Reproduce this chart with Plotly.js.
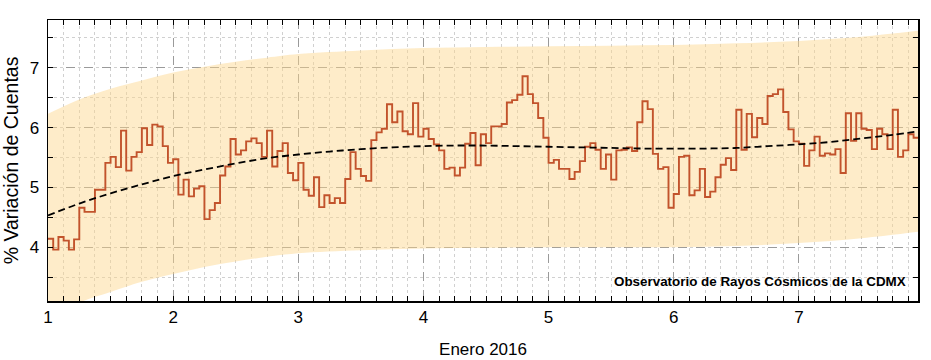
<!DOCTYPE html>
<html>
<head>
<meta charset="utf-8">
<script src="https://cdn.plot.ly/plotly-3.0.1.min.js"></script>
<style>html,body{margin:0;padding:0;background:#fff;}#chart{width:931px;height:360px;}</style>
</head>
<body>
<div id="chart"></div>
<script>
// Hourly % variation of counts, starting at day 1 (January 2016), one value per hour
const startDay = 1;
const hourlyValues = [
  4.14, 3.96, 4.17, 4.11, 3.96, 4.13, 4.66, 4.59, 4.59, 4.96,
  4.96, 5.41, 5.51, 5.34, 5.95, 5.28, 5.51, 5.59, 5.99, 5.71,
  6.05, 6.02, 5.69, 5.41, 5.47, 4.88, 5.13, 4.85, 4.98, 5.02,
  4.47, 4.62, 4.74, 5.20, 5.35, 5.81, 5.55, 5.62, 5.77, 5.82,
  5.74, 5.51, 5.95, 5.35, 5.61, 5.74, 5.24, 5.12, 5.41, 4.96,
  4.86, 5.17, 4.67, 4.87, 4.74, 4.82, 4.74, 5.14, 5.59, 5.31,
  5.19, 5.11, 5.79, 5.92, 5.98, 6.39, 6.09, 6.27, 5.94, 5.89,
  6.41, 5.85, 5.98, 5.81, 5.72, 5.62, 5.31, 5.33, 5.20, 5.33,
  5.73, 5.91, 5.37, 5.89, 5.74, 6.02, 6.02, 6.06, 6.42, 6.46,
  6.55, 6.86, 6.56, 6.41, 6.16, 5.83, 5.41, 5.46, 5.31, 5.31,
  5.14, 5.26, 5.44, 5.68, 5.74, 5.63, 5.31, 5.55, 5.13, 5.62,
  5.63, 5.67, 5.61, 6.09, 6.44, 6.31, 5.56, 5.31, 5.34, 4.66,
  4.89, 5.51, 5.53, 4.87, 4.95, 5.31, 4.84, 4.93, 5.17, 5.38,
  5.49, 5.29, 6.30, 5.63, 6.23, 5.84, 6.16, 6.06, 6.53, 6.56,
  6.64, 6.26, 5.97, 5.77, 5.73, 5.36, 5.62, 5.85, 5.53, 5.57,
  5.55, 5.64, 5.24, 6.24, 5.78, 6.24, 5.98, 5.96, 5.64, 5.98,
  5.89, 5.64, 6.30, 5.51, 5.62, 5.89, 5.83
];

// Smooth trend and its band, read at sample days
const trendDays  = [1.0, 1.25, 1.5, 1.75, 2.0, 2.25, 2.5, 2.75, 3.0, 3.25, 3.5, 3.75, 4.0, 4.25, 4.5, 4.75, 5.0, 5.25, 5.5, 5.75, 6.0, 6.25, 6.5, 6.75, 7.0, 7.25, 7.5, 7.75, 7.96];
const trendValues = [4.53, 4.73, 4.90, 5.05, 5.19, 5.30, 5.40, 5.49, 5.55, 5.60, 5.64, 5.67, 5.69, 5.70, 5.70, 5.69, 5.68, 5.67, 5.66, 5.65, 5.65, 5.65, 5.66, 5.69, 5.72, 5.76, 5.82, 5.88, 5.94];

const bandDays  = [1.0, 1.25, 1.5, 1.75, 2.0, 2.25, 2.5, 2.75, 3.0, 3.5, 4.0, 4.5, 5.0, 5.5, 6.0, 6.5, 7.0, 7.5, 7.96];
const bandUpper = [6.23, 6.47, 6.65, 6.79, 6.92, 7.02, 7.10, 7.17, 7.23, 7.29, 7.33, 7.35, 7.36, 7.37, 7.38, 7.41, 7.45, 7.52, 7.62];
const bandLower = [2.75, 3.07, 3.25, 3.42, 3.55, 3.67, 3.76, 3.84, 3.90, 3.95, 3.98, 3.99, 4.00, 4.00, 4.00, 4.02, 4.07, 4.15, 4.26];

const xTickVals = [1, 2, 3, 4, 5, 6, 7];
const xTickText = ['1', '2', '3', '4', '5', '6', '7'];
const yTickVals = [4, 5, 6, 7];
const yTickText = ['4', '5', '6', '7'];

// step coordinates (bin starts) plus closing edge of last bin
const stepX = hourlyValues.map((v, i) => startDay + i / 24);
stepX.push(startDay + hourlyValues.length / 24);
const stepY = hourlyValues.concat([hourlyValues[hourlyValues.length - 1]]);

const font = 'Liberation Sans, Arial, sans-serif';

const traces = [
  {x: bandDays, y: bandLower, mode: 'lines', line: {width: 0, shape: 'spline'}, hoverinfo: 'skip', showlegend: false},
  {x: bandDays, y: bandUpper, mode: 'lines', line: {width: 0, shape: 'spline'}, fill: 'tonexty',
   fillcolor: 'rgba(252, 214, 140, 0.47)', hoverinfo: 'skip', showlegend: false},
  {x: stepX, y: stepY, mode: 'lines', line: {color: '#C2532C', width: 1.9, shape: 'hv'}, showlegend: false},
  {x: trendDays, y: trendValues, mode: 'lines', line: {color: '#000', width: 1.8, dash: '7px,4px', shape: 'spline'}, showlegend: false}
];

const axisCommon = {
  showline: true, linecolor: '#000', linewidth: 1.5, mirror: 'allticks',
  ticks: 'inside', ticklen: 5, tickwidth: 1, tickcolor: '#000',
  showgrid: true, gridcolor: '#9a9a9a', gridwidth: 1, griddash: 'dash',
  zeroline: false,
  tickfont: {family: font, size: 17, color: '#000'}
};

const layout = {
  width: 931, height: 360,
  margin: {l: 48, r: 13, t: 20, b: 59},
  paper_bgcolor: '#fff', plot_bgcolor: '#fff',
  font: {family: font, color: '#000'},
  xaxis: Object.assign({}, axisCommon, {
    range: [1, 7.952], tickvals: xTickVals, ticktext: xTickText,
    ticklabelstandoff: 0,
    minor: {dtick: 0.125, tick0: 1, ticks: 'inside', ticklen: 5, tickcolor: '#000', showgrid: true, gridcolor: '#d0d0d0', griddash: 'dot', gridwidth: 1},
    title: {text: 'Enero 2016', font: {family: font, size: 17, color: '#000'}, standoff: 17}
  }),
  yaxis: Object.assign({}, axisCommon, {
    range: [3.1, 7.8], tickvals: yTickVals, ticktext: yTickText,
    ticklabelstandoff: 4,
    minor: {dtick: 0.5, tick0: 3, ticks: 'inside', ticklen: 5, tickcolor: '#000', showgrid: true, gridcolor: '#d0d0d0', griddash: 'dot', gridwidth: 1},
    title: {text: '% Variación de Cuentas', font: {family: font, size: 19.5, color: '#000'}, standoff: 12}
  }),
  annotations: [{
    xref: 'paper', yref: 'paper', x: 0.9885, y: 0.07, xanchor: 'right', yanchor: 'middle',
    text: '<b>Observatorio de Rayos Cósmicos de la CDMX</b>', showarrow: false,
    font: {family: font, size: 13.4, color: '#000'}
  }]
};

Plotly.newPlot('chart', traces, layout, {displayModeBar: false, staticPlot: true});
</script>
</body>
</html>
